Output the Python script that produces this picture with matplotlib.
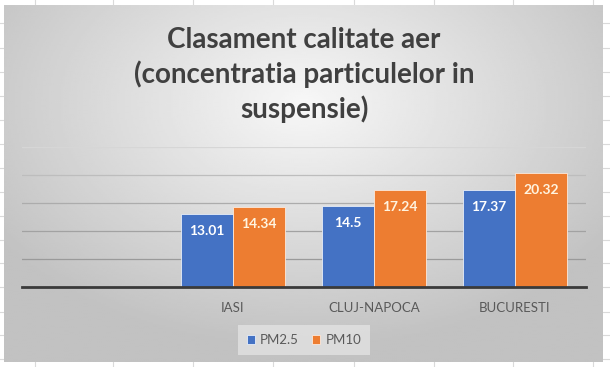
import matplotlib
matplotlib.use("Agg")
import matplotlib.pyplot as plt
import numpy as np

categories = ["", "IASI", "CLUJ-NAPOCA", "BUCURESTI"]
pm25 = [np.nan, 13.01, 14.5, 17.37]
pm10 = [np.nan, 14.34, 17.24, 20.32]
series_names = ["PM2.5", "PM10"]
grid_values = [5, 10, 15, 20, 25]
title = "Clasament calitate aer\n(concentratia particulelor in\nsuspensie)"

W, H = 610, 367
fig = plt.figure(figsize=(W / 100, H / 100), dpi=100)

# background: white sheet with faint cell lines, grey gradient chart panel
bg = fig.add_axes([0, 0, 1, 1])
bg.set_xlim(0, W); bg.set_ylim(H, 0); bg.axis("off")
for x in [35, 113, 193, 273, 354, 434, 513, 593]:
    bg.plot([x, x], [0, H], color="#dadada", lw=0.8, zorder=0)
for y in [23, 48, 72, 96, 120, 144, 168, 192, 216, 240, 263, 287, 312, 335, 359]:
    bg.plot([0, W], [y, y], color="#dadada", lw=0.8, zorder=0)

px0, px1, py0, py1 = 4, 603, 5, 362
gx = np.linspace(-1, 1, 300)
gy = np.linspace(-1, 1, 200)
X, Y = np.meshgrid(gx, gy)
r = np.sqrt(X ** 2 + ((Y + 0.45) * 0.9) ** 2)
shade = np.clip(0.97 - 0.17 * r, 0.76, 0.97)
bg.imshow(shade, cmap="gray", vmin=0, vmax=1, extent=[px0, px1, py1, py0],
          aspect="auto", zorder=1, interpolation="bilinear")

fig.text(304 / W, 1 - 75 / H, title, ha="center", va="center", fontsize=20,
         fontweight="bold", family="Lato", color="#404040", linespacing=1.32)

ax = fig.add_axes([21.5 / W, 80 / H, 564 / W, 140 / H])
ax.patch.set_alpha(0)
x = np.arange(len(categories))
w = 0.37
b1 = ax.bar(x - w / 2, pm25, w, color="#4472C4", edgecolor="#e8eef8", lw=0.6,
            label=series_names[0], zorder=3)
b2 = ax.bar(x + w / 2, pm10, w, color="#ED7D31", edgecolor="#fbe9dc", lw=0.6,
            label=series_names[1], zorder=3)
for bars, vals, tc in [(b1, pm25, "white"), (b2, pm10, "#FFF4E0")]:
    for rect, v in zip(bars, vals):
        if np.isnan(v):
            continue
        ax.annotate(f"{v:g}", (rect.get_x() + rect.get_width() / 2, v),
                    xytext=(0, -17), textcoords="offset pixels",
                    ha="center", va="center", fontsize=10, fontweight="bold",
                    family="Lato", color=tc, zorder=4)

ax.set_xlim(-0.5, 3.5)
ax.set_ylim(0, 25)
# gridlines fade out toward the lighter top of the panel
grid_colors = ["#9a9a9a", "#a2a2a2", "#acacac", "#bdbdbd", "#d6d6d6"]
for gv, gc in zip(grid_values, grid_colors):
    ax.axhline(gv, color=gc, lw=0.9, zorder=0)
ax.set_yticks([])
ax.set_xticks(x)
ax.set_xticklabels(categories, fontsize=9.5, color="#595959", family="Lato")
ax.tick_params(axis="x", length=0, pad=11)
for s in ["top", "right", "left"]:
    ax.spines[s].set_visible(False)
ax.spines["bottom"].set_color("#3a3a3a")
ax.spines["bottom"].set_linewidth(2)
ax.spines["bottom"].set_zorder(5)

leg = fig.legend(handles=[b1, b2], loc="center", bbox_to_anchor=(304 / W, 1 - 340 / H),
                 ncol=2, frameon=True, handlelength=0.6, handleheight=0.6,
                 handletextpad=0.4, columnspacing=1.0, borderpad=0.7,
                 prop={"family": "Lato", "size": 9.5})
leg.get_frame().set_facecolor("#e2e2e2")
leg.get_frame().set_edgecolor("none")
leg.get_frame().set_boxstyle("square", pad=0)
for t in leg.get_texts():
    t.set_color("#595959")

fig.savefig("out.png", dpi=100)
